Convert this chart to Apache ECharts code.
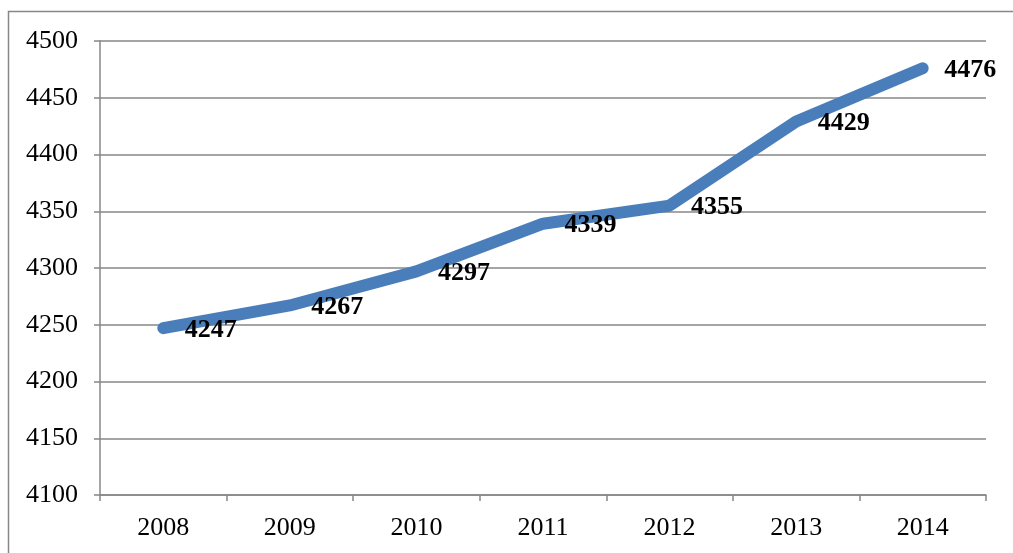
<!DOCTYPE html>
<html>
<head>
<meta charset="utf-8">
<script src="https://cdn.jsdelivr.net/npm/echarts@6/dist/echarts.min.js"></script>
<style>
  html, body { margin: 0; padding: 0; background: #fff; }
  #chart { width: 1013px; height: 553px; }
</style>
</head>
<body>
<div id="chart"></div>
<script>
// Yearly values
const years = ['2008', '2009', '2010', '2011', '2012', '2013', '2014'];
const values = [4247, 4267, 4297, 4339, 4355, 4429, 4476];
const yMin = 4100;
const yMax = 4500;
const yStep = 50;

const serif = '"Liberation Serif", "Times New Roman", serif';
const gray = '#878787';

const chart = echarts.init(document.getElementById('chart'), null, { renderer: 'canvas' });
chart.setOption({
  animation: false,
  backgroundColor: '#fff',
  graphic: [{
    type: 'rect',
    shape: { x: 8.5, y: 11.5, width: 1100, height: 600 },
    style: { fill: 'none', stroke: gray, lineWidth: 1.5 },
    silent: true
  }],
  grid: { left: 100, right: 27, top: 41, bottom: 58, containLabel: false },
  xAxis: {
    type: 'category',
    data: years,
    boundaryGap: true,
    axisLine: { lineStyle: { color: gray, width: 1.5 } },
    axisTick: { show: true, length: 6, lineStyle: { color: gray, width: 1.5 } },
    axisLabel: { color: '#000', fontFamily: serif, fontSize: 26, margin: 20 },
    splitLine: { show: false }
  },
  yAxis: {
    type: 'value',
    min: yMin,
    max: yMax,
    interval: yStep,
    axisLine: { show: true, lineStyle: { color: gray, width: 1.5 } },
    axisTick: { show: true, length: 6, lineStyle: { color: gray, width: 1.5 } },
    axisLabel: {
      color: '#000', fontFamily: serif, fontSize: 26, margin: 22,
      formatter: function (v) { return String(v); }
    },
    splitLine: { show: true, lineStyle: { color: gray, width: 1.5 } }
  },
  series: [{
    type: 'line',
    data: values,
    symbol: 'circle',
    symbolSize: 1,
    showSymbol: true,
    itemStyle: { color: 'rgba(74,126,187,0)', borderWidth: 0 },
    lineStyle: { color: '#4a7ebb', width: 12, cap: 'round', join: 'round' },
    label: {
      show: true,
      position: 'right',
      distance: 21,
      offset: [0, 2],
      color: '#000',
      fontFamily: serif,
      fontSize: 26,
      fontWeight: 'bold'
    }
  }]
});
</script>
</body>
</html>
